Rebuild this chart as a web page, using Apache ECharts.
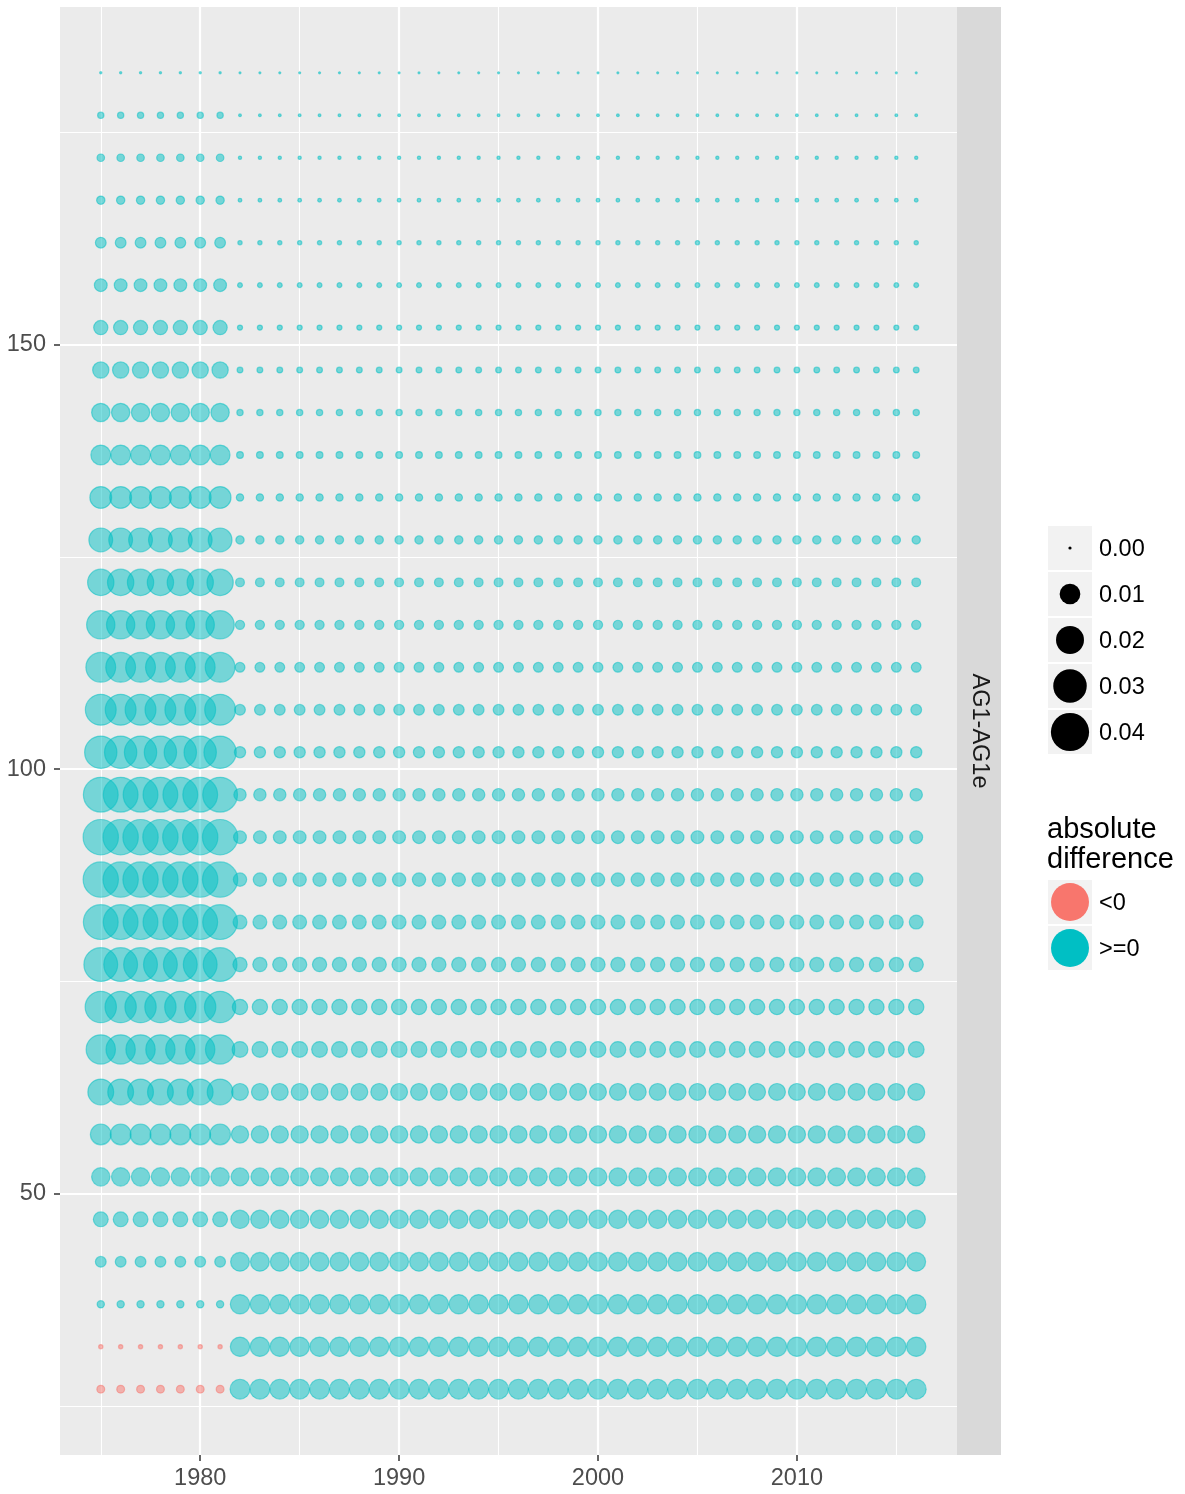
<!DOCTYPE html>
<html>
<head>
<meta charset="utf-8">
<script src="https://cdn.jsdelivr.net/npm/echarts@6/dist/echarts.min.js"></script>
<style>
  html, body { margin: 0; padding: 0; background: #ffffff; }
  #chart { width: 1185px; height: 1494px; }
</style>
</head>
<body>
<div id="chart"></div>
<script>
// ---------------- data ----------------
const earlyYears = [1975, 1976, 1977, 1978, 1979, 1980, 1981];
const lateYears = [1982, 1983, 1984, 1985, 1986, 1987, 1988, 1989, 1990, 1991,
  1992, 1993, 1994, 1995, 1996, 1997, 1998, 1999, 2000, 2001, 2002, 2003, 2004,
  2005, 2006, 2007, 2008, 2009, 2010, 2011, 2012, 2013, 2014, 2015, 2016];

// y position of each row of points (bottom to top)
const rowValues = [27, 32, 37, 42, 47, 52, 57, 62, 67, 72, 77, 82, 87, 92, 97,
  102, 107, 112, 117, 122, 127, 132, 137, 142, 147, 152, 157, 162, 167, 172, 177, 182];

// absolute difference, years 1975-1981 (one value per row, bottom to top)
const diffEarly = [-0.0011, -0.00017, 0.0009, 0.0025, 0.0054, 0.0087, 0.0115,
  0.0185, 0.0243, 0.0280, 0.0330, 0.0351, 0.0362, 0.0362, 0.0351,
  0.0300, 0.0271, 0.0252, 0.0226, 0.0193, 0.0155, 0.0128, 0.0104, 0.0087,
  0.0067, 0.0049, 0.0038, 0.0025, 0.0013, 0.0010, 0.0006, 0.000003];

// absolute difference, years 1982-2016 (one value per row, bottom to top)
const diffLate = [0.0104, 0.0098, 0.0098, 0.0092, 0.0087, 0.0082, 0.0076,
  0.0072, 0.0062, 0.0058, 0.0049, 0.0046, 0.0042, 0.0038, 0.0035,
  0.0028, 0.0025, 0.0020, 0.0017, 0.0015, 0.0013, 0.00092, 0.00075, 0.0006,
  0.00047, 0.00031, 0.00026, 0.00017, 0.0001, 0.000055, 0.00002, 0.0];

const xTickLabels = [1980, 1990, 2000, 2010];
const xMinorGrid = [1975, 1985, 1995, 2005, 2015];
const yTickLabels = [50, 100, 150];
const yMinorGrid = [25, 75, 125, 175];
const sizeBreaks = [0, 0.01, 0.02, 0.03, 0.04];
const sizeBreakLabels = ['0.00', '0.01', '0.02', '0.03', '0.04'];
const colorLabels = ['<0', '>=0'];
const stripLabel = 'AG1-AG1e';
const legendTitle = ['absolute', 'difference'];

// ---------------- build chart ----------------
const FONT = "'Liberation Sans', Arial, Helvetica, sans-serif";
const TEAL = '#00BFC4', RED = '#F8766D';
const STROKE = 1.2;
function sizeOf(v) { return 2 + 175 * Math.sqrt(Math.abs(v)); }

const negPts = [], posPts = [];
rowValues.forEach((r, i) => {
  earlyYears.forEach(y => {
    const v = diffEarly[i];
    (v < 0 ? negPts : posPts).push([y, r, v]);
  });
  lateYears.forEach(y => {
    const v = diffLate[i];
    (v < 0 ? negPts : posPts).push([y, r, v]);
  });
});

const xMin = 1975 - 0.05 * (2016 - 1975), xMax = 2016 + 0.05 * (2016 - 1975);
const yMin = 27 - 0.05 * (182 - 27), yMax = 182 + 0.05 * (182 - 27);

const gridLeft = 60, gridTop = 7, gridW = 897, gridH = 1448;

function vLines(vals, w) { return vals.map(v => ({ xAxis: v, lineStyle: { color: '#ffffff', width: w, type: 'solid' } })); }
function hLines(vals, w) { return vals.map(v => ({ yAxis: v, lineStyle: { color: '#ffffff', width: w, type: 'solid' } })); }

const graphics = [];
// facet strip
graphics.push({ type: 'rect', shape: { x: gridLeft + gridW, y: gridTop, width: 44, height: gridH },
  style: { fill: '#D9D9D9' }, z: 0 });
graphics.push({ type: 'text', x: gridLeft + gridW + 22, y: gridTop + gridH / 2, rotation: -Math.PI / 2,
  style: { text: stripLabel, font: '23.5px ' + FONT, fill: '#1A1A1A', textAlign: 'center', textVerticalAlign: 'middle' } });
// size legend
const keyX = 1048, keyW = 44, keyH = 44;
const sizeCenters = [548, 594, 640, 686, 732];
sizeBreaks.forEach((b, i) => {
  const cy = sizeCenters[i];
  graphics.push({ type: 'rect', shape: { x: keyX, y: cy - keyH / 2, width: keyW, height: keyH }, style: { fill: '#F2F2F2' } });
  graphics.push({ type: 'circle', shape: { cx: keyX + keyW / 2, cy: cy, r: (sizeOf(b) + STROKE) / 2 }, style: { fill: '#000000' } });
  graphics.push({ type: 'text', x: 1099, y: cy + 2, style: { text: sizeBreakLabels[i], font: '23.5px ' + FONT, fill: '#000000', textVerticalAlign: 'middle' } });
});
// colour legend
graphics.push({ type: 'text', x: 1047, y: 830, style: { text: legendTitle[0], font: '29px ' + FONT, fill: '#000000', textVerticalAlign: 'middle' } });
graphics.push({ type: 'text', x: 1047, y: 860, style: { text: legendTitle[1], font: '29px ' + FONT, fill: '#000000', textVerticalAlign: 'middle' } });
const colCenters = [902, 948];
[RED, TEAL].forEach((c, i) => {
  const cy = colCenters[i];
  graphics.push({ type: 'rect', shape: { x: keyX, y: cy - keyH / 2, width: keyW, height: keyH }, style: { fill: '#F2F2F2' } });
  graphics.push({ type: 'circle', shape: { cx: keyX + keyW / 2, cy: cy, r: 19 }, style: { fill: c } });
  graphics.push({ type: 'text', x: 1099, y: cy + 2, style: { text: colorLabels[i], font: '23.5px ' + FONT, fill: '#000000', textVerticalAlign: 'middle' } });
});

const chart = echarts.init(document.getElementById('chart'), null, { renderer: 'canvas' });
chart.setOption({
  animation: false,
  backgroundColor: '#ffffff',
  grid: { left: gridLeft, top: gridTop, width: gridW, height: gridH, show: true,
    backgroundColor: '#EBEBEB', borderWidth: 0, containLabel: false },
  xAxis: {
    type: 'value', min: xMin, max: xMax,
    axisLine: { show: false },
    axisTick: { show: true, length: 6, lineStyle: { color: '#333333', width: 1.5 }, customValues: xTickLabels },
    axisLabel: { show: true, margin: 12, color: '#4D4D4D', fontSize: 23.5, fontFamily: FONT,
      customValues: xTickLabels, formatter: v => String(v) },
    splitLine: { show: false }
  },
  yAxis: {
    type: 'value', min: yMin, max: yMax,
    axisLine: { show: false },
    axisTick: { show: true, length: 6, lineStyle: { color: '#333333', width: 1.5 }, customValues: yTickLabels },
    axisLabel: { show: true, margin: 14, color: '#4D4D4D', fontSize: 23.5, fontFamily: FONT,
      customValues: yTickLabels, formatter: v => String(v) },
    splitLine: { show: false }
  },
  graphic: graphics,
  series: [
    {
      type: 'scatter', name: 'grid', data: [], z: 1, silent: true,
      markLine: {
        z: 1, silent: true, symbol: ['none', 'none'], label: { show: false }, animation: false,
        emphasis: { disabled: true },
        data: [].concat(vLines(xMinorGrid, 1.1), hLines(yMinorGrid, 1.1),
                        vLines(xTickLabels, 2.2), hLines(yTickLabels, 2.2))
      }
    },
    {
      type: 'scatter', name: '<0', data: negPts, z: 3, silent: true,
      symbol: 'circle', symbolSize: d => sizeOf(d[2]),
      itemStyle: { color: RED, opacity: 0.5, borderColor: RED, borderWidth: STROKE }
    },
    {
      type: 'scatter', name: '>=0', data: posPts, z: 3, silent: true,
      symbol: 'circle', symbolSize: d => sizeOf(d[2]),
      itemStyle: { color: TEAL, opacity: 0.5, borderColor: TEAL, borderWidth: STROKE }
    }
  ]
});
</script>
</body>
</html>
